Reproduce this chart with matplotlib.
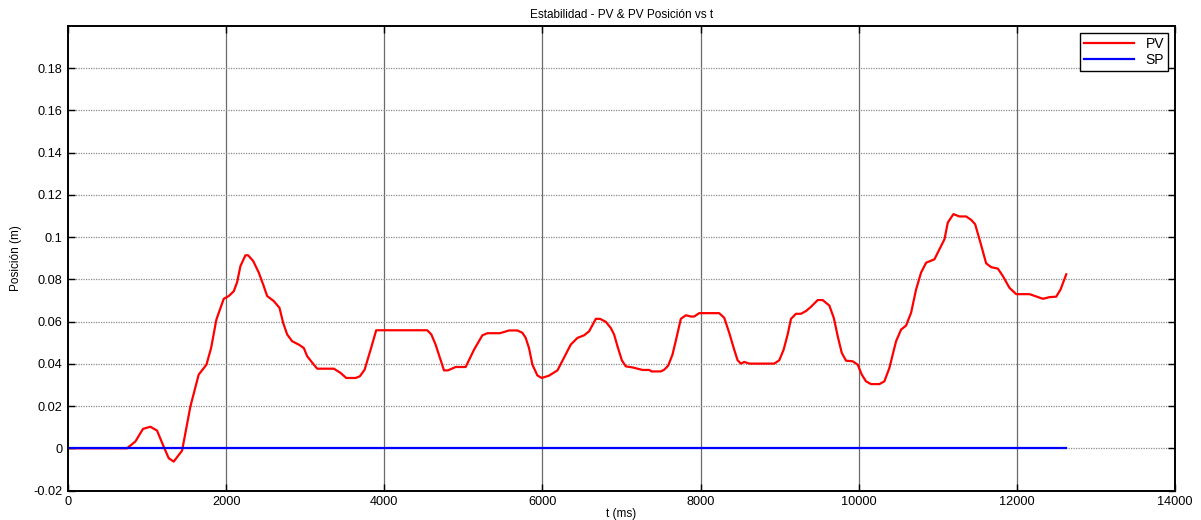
import numpy as np
import matplotlib.pyplot as plt

# PV trace (t in ms, position in m)
t_pv = [0, 747, 852, 949, 1042, 1126, 1210, 1274, 1337, 1443, 1548, 1653, 1751,
        1810, 1877, 1970, 2033, 2097, 2139, 2181, 2244, 2278, 2342, 2413, 2468,
        2519, 2603, 2675, 2721, 2772, 2835, 2919, 2982, 3025, 3109, 3152, 3362,
        3447, 3519, 3637, 3691, 3751, 3827, 3898, 4544, 4595, 4649, 4755, 4805,
        4903, 5029, 5135, 5240, 5304, 5463, 5577, 5683, 5747, 5788, 5830, 5873,
        5936, 5991, 6083, 6190, 6282, 6358, 6443, 6527, 6590, 6675, 6729, 6801,
        6864, 6906, 6949, 7004, 7054, 7139, 7202, 7266, 7350, 7380, 7497, 7539,
        7590, 7645, 7700, 7750, 7814, 7877, 7919, 7982, 8235, 8299, 8362, 8425,
        8468, 8510, 8552, 8615, 8932, 8995, 9050, 9101, 9143, 9206, 9269, 9333,
        9396, 9481, 9544, 9628, 9684, 9734, 9785, 9839, 9924, 9987, 10038,
        10092, 10156, 10261, 10324, 10387, 10472, 10535, 10598, 10662, 10725,
        10788, 10852, 10957, 11020, 11084, 11126, 11197, 11273, 11358, 11421,
        11472, 11539, 11611, 11674, 11759, 11822, 11906, 11991, 12160, 12244,
        12329, 12413, 12497, 12552, 12624]
pv = [0, 0, 0.0032, 0.0092, 0.0102, 0.0084, 0.0008, -0.0047, -0.0063, -0.0011,
      0.0198, 0.0349, 0.0396, 0.0475, 0.061, 0.0708, 0.0721, 0.0744, 0.0787,
      0.0863, 0.0914, 0.0914, 0.0887, 0.0832, 0.0776, 0.0721, 0.0697, 0.0665,
      0.0594, 0.0539, 0.0507, 0.0491, 0.0475, 0.0436, 0.0396, 0.0377, 0.0377,
      0.0357, 0.0333, 0.0333, 0.0341, 0.0372, 0.0467, 0.0559, 0.0559, 0.0539,
      0.0491, 0.0369, 0.0369, 0.0385, 0.0385, 0.0467, 0.0535, 0.0545, 0.0545,
      0.0558, 0.0558, 0.0547, 0.0523, 0.0475, 0.0396, 0.0345, 0.0333, 0.0344,
      0.0369, 0.0436, 0.0491, 0.0523, 0.0535, 0.0554, 0.0613, 0.0613, 0.0599,
      0.057, 0.0539, 0.0483, 0.0417, 0.0388, 0.0383, 0.0377, 0.0371, 0.0371,
      0.0364, 0.0364, 0.0372, 0.0391, 0.0444, 0.0531, 0.0613, 0.063, 0.0624,
      0.0624, 0.064, 0.064, 0.0618, 0.0547, 0.0467, 0.0417, 0.0401, 0.0409,
      0.0401, 0.0401, 0.0417, 0.0467, 0.0539, 0.0613, 0.0637, 0.0637, 0.065,
      0.067, 0.0702, 0.0702, 0.0676, 0.0618, 0.0531, 0.0452, 0.0415, 0.0412,
      0.0396, 0.0349, 0.0317, 0.0304, 0.0304, 0.0317, 0.038, 0.0507, 0.0562,
      0.0581, 0.0642, 0.0752, 0.0832, 0.0879, 0.0895, 0.0942, 0.099, 0.1069,
      0.1109, 0.1098, 0.1098, 0.1082, 0.1061, 0.0974, 0.0876, 0.0858, 0.0851,
      0.0816, 0.076, 0.073, 0.073, 0.0719, 0.0708, 0.0716, 0.0718, 0.0752,
      0.0824]

# set point
t_sp = [0, 12624]
sp = [0, 0]

xticks = [0, 2000, 4000, 6000, 8000, 10000, 12000, 14000]
yticks = [-0.02, 0, 0.02, 0.04, 0.06, 0.08, 0.1, 0.12, 0.14, 0.16, 0.18]
ylabels = ['-0.02', '0', '0.02', '0.04', '0.06', '0.08', '0.1',
           '0.12', '0.14', '0.16', '0.18']

plt.rcParams['font.family'] = ['Liberation Sans', 'DejaVu Sans']

fig = plt.figure(figsize=(12.01, 5.2), dpi=100)
ax = fig.add_axes([0.0566, 0.0567, 0.9218, 0.8933])

ax.plot(t_pv, pv, color='red', lw=1.6, label='PV')
ax.plot(t_sp, sp, color='blue', lw=1.6, label='SP')

ax.set_xlim(0, 14000)
ax.set_ylim(-0.02, 0.2)
ax.set_xticks(xticks)
ax.set_yticks(yticks)
ax.set_xticklabels([str(v) for v in xticks])
ax.set_yticklabels(ylabels)

# grid: solid verticals, dotted horizontals
for xv in xticks[1:-1]:
    ax.axvline(xv, color='#6a6a6a', lw=0.9, zorder=0)
for yv in yticks[1:]:
    ax.axhline(yv, color='#8a8a8a', lw=0.9, ls=(0, (1, 1)), zorder=0)

ax.tick_params(direction='in', length=5, width=1, top=True, right=True,
               labelsize=9.2, pad=4)
for s in ax.spines.values():
    s.set_linewidth(1.4)

ax.set_title('Estabilidad - PV & PV Posición vs t', fontsize=8.5, pad=6)
ax.set_xlabel('t (ms)', fontsize=8.5)
ax.xaxis.set_label_coords(0.5, -0.038)
ax.set_ylabel('Posición (m)', fontsize=8.5, labelpad=8)

leg = ax.legend(loc='upper right', fontsize=10, fancybox=False, framealpha=1,
                edgecolor='black', handlelength=3.6, borderaxespad=0.5,
                borderpad=0.3, labelspacing=0.15)
leg.get_frame().set_linewidth(1.0)

fig.savefig('out.png', dpi=100)
